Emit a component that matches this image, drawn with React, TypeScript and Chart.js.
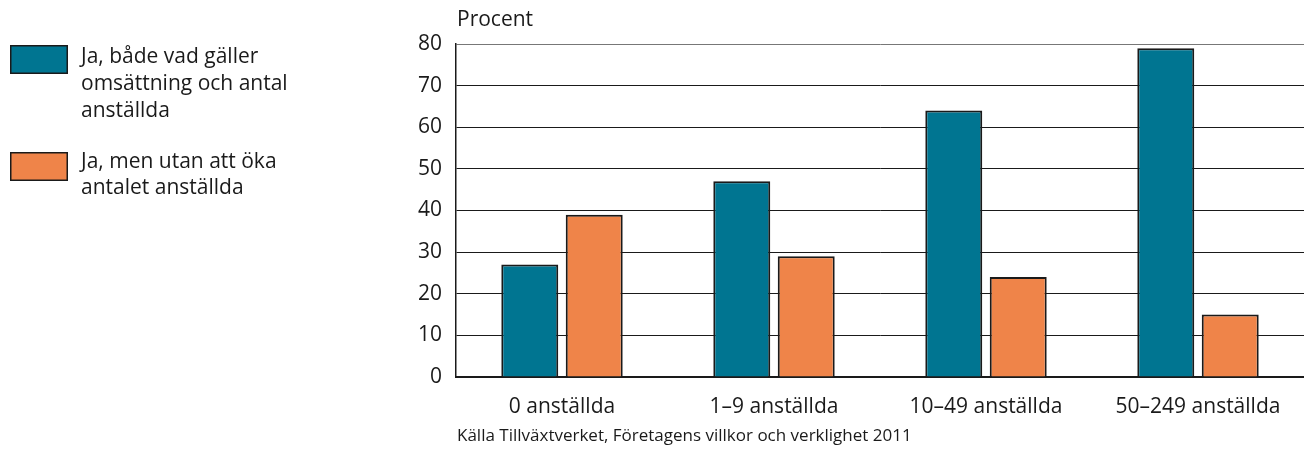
import React, { useEffect, useRef } from "react";
import { Chart, registerables } from "chart.js";

Chart.register(...registerables);

const categories = ["0 anställda", "1–9 anställda", "10–49 anställda", "50–249 anställda"];
const seriesBoth = [27, 47, 64, 79];
const seriesNoHire = [39, 29, 24, 15];
const legendBoth = ["Ja, både vad gäller", "omsättning och antal", "anställda"];
const legendNoHire = ["Ja, men utan att öka", "antalet anställda"];
const yTitle = "Procent";
const sourceText = "Källa Tillväxtverket, Företagens villkor och verklighet 2011";

const BLUE = "#007591";
const ORANGE = "#EF8449";
const FONT = "'Open Sans', 'Noto Sans', sans-serif";

export default function App() {
  const ref = useRef<HTMLCanvasElement | null>(null);

  useEffect(() => {
    document.body.style.margin = "0";
    const canvas = ref.current;
    if (!canvas) return;

    const textPlugin = {
      id: "extraText",
      afterDraw(chart: any) {
        const ctx = chart.ctx;
        const area = chart.chartArea;
        ctx.save();
        ctx.fillStyle = "#1a1a1a";
        ctx.textBaseline = "middle";
        ctx.textAlign = "left";
        ctx.font = `21px ${FONT}`;
        ctx.fillText(yTitle, area.left + 1, 20);
        // legend
        const drawBox = (y: number, color: string) => {
          ctx.fillStyle = color;
          ctx.fillRect(10, y, 58, 29);
          ctx.strokeStyle = "#1a1a1a";
          ctx.lineWidth = 1.5;
          ctx.strokeRect(10.75, y + 0.75, 56.5, 27.5);
        };
        drawBox(45, BLUE);
        drawBox(152, ORANGE);
        ctx.fillStyle = "#1a1a1a";
        ctx.font = `21px ${FONT}`;
        legendBoth.forEach((t, i) => ctx.fillText(t, 81, 57 + i * 27));
        legendNoHire.forEach((t, i) => ctx.fillText(t, 81, 162 + i * 26.5));
        ctx.font = `17px ${FONT}`;
        ctx.fillText(sourceText, area.left + 1, 436);
        ctx.restore();
      },
    };

    const chart = new Chart(canvas, {
      type: "bar",
      data: {
        labels: categories,
        datasets: [
          {
            label: legendBoth.join(" "),
            data: seriesBoth,
            backgroundColor: BLUE,
            borderColor: "#1a1a1a",
            borderWidth: 2,
            categoryPercentage: 0.608,
            barPercentage: 0.884,
          },
          {
            label: legendNoHire.join(" "),
            data: seriesNoHire,
            backgroundColor: ORANGE,
            borderColor: "#1a1a1a",
            borderWidth: 2,
            categoryPercentage: 0.608,
            barPercentage: 0.884,
          },
        ],
      },
      options: {
        animation: false,
        responsive: false,
        maintainAspectRatio: false,
        layout: { padding: { top: 44, left: 0, right: 0, bottom: 0 } },
        plugins: {
          legend: { display: false },
          tooltip: { enabled: false },
          title: { display: false },
        },
        scales: {
          x: {
            grid: { display: false, drawTicks: false },
            border: { display: true, color: "#1a1a1a", width: 2 },
            ticks: {
              color: "#1a1a1a",
              font: { family: FONT, size: 21 },
              padding: 17,
            },
            afterFit(scale: any) {
              scale.height = 75;
            },
          },
          y: {
            min: 0,
            max: 80,
            grid: {
              color: (c: any) => (c.tick && c.tick.value === 80 ? "#777777" : "#1a1a1a"),
              lineWidth: 1,
              drawTicks: false,
            },
            border: { display: true, color: "#1a1a1a", width: 1.5 },
            ticks: {
              stepSize: 10,
              color: "#1a1a1a",
              font: { family: FONT, size: 21 },
              padding: 14,
            },
            afterFit(scale: any) {
              scale.width = 456;
            },
          },
        },
      },
      plugins: [textPlugin],
    });

    return () => chart.destroy();
  }, []);

  return <canvas ref={ref} width={1304} height={452} style={{ display: "block" }} />;
}
